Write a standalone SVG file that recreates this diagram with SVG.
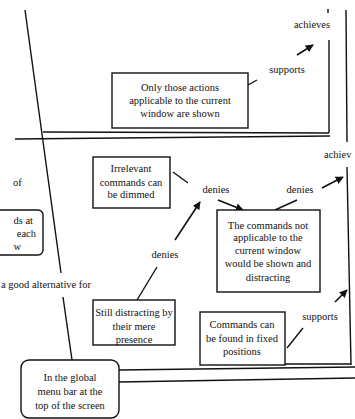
<svg xmlns="http://www.w3.org/2000/svg" width="355" height="419" viewBox="0 0 355 419">
<style>
text{font-family:"Liberation Serif","DejaVu Serif",serif;font-size:10.5px;fill:#111;text-anchor:middle}
.b{fill:#fff;stroke:#111;stroke-width:1.4}
.l{fill:none;stroke:#111;stroke-width:1.4}
.a{fill:none;stroke:#111;stroke-width:1.6;marker-end:url(#ah)}
</style>
<defs>
<marker id="ah" viewBox="0 0 10 10" refX="9" refY="5" markerWidth="8" markerHeight="8" markerUnits="userSpaceOnUse" orient="auto">
<path d="M0,0L10,5L0,10z" fill="#111"/>
</marker>
</defs>
<rect width="355" height="419" fill="#fff"/>
<g id="frames" class="l">
<line x1="25" y1="10" x2="61" y2="273"/>
<line x1="346" y1="10" x2="347" y2="142"/>
<line x1="329" y1="40" x2="329" y2="133"/>
<line x1="43" y1="132" x2="329" y2="133"/>
<line x1="15" y1="139" x2="330" y2="136"/>
<line x1="328" y1="9" x2="328" y2="13"/>
<line x1="347" y1="167" x2="351" y2="365"/>
<line x1="285" y1="364" x2="351" y2="364"/>
</g>
<g id="connectors">
<line class="l" x1="248" y1="85" x2="257" y2="80"/>
<line class="a" x1="297" y1="55" x2="313" y2="45"/>
<line class="l" x1="173" y1="172" x2="188" y2="183"/>
<line class="a" x1="218" y1="200" x2="243" y2="210"/>
<line class="l" x1="275" y1="210" x2="297" y2="200"/>
<line class="a" x1="322" y1="188" x2="343" y2="177"/>
<line class="l" x1="137" y1="300" x2="157" y2="267"/>
<line class="a" x1="175" y1="240" x2="200" y2="202"/>
<line class="l" x1="287" y1="348" x2="303" y2="328"/>
<line class="a" x1="335" y1="302" x2="347" y2="290"/>
<line class="l" x1="119" y1="370" x2="355" y2="367"/>
<line class="l" x1="119" y1="382" x2="355" y2="378"/>
<line class="l" x1="63" y1="297" x2="72" y2="360"/>
</g>
<g id="labels">
<text x="312" y="28">achieves</text>
<text x="287" y="73">supports</text>
<text x="324" y="158" style="text-anchor:start">achiev</text>
<text x="216" y="193">denies</text>
<text x="300" y="193">denies</text>
<text x="165" y="258">denies</text>
<text x="320" y="320">supports</text>
<text x="13" y="186" style="text-anchor:start">of</text>
<text x="1" y="288" style="text-anchor:start">a good alternative for</text>
</g>
<g id="n-only">
<rect class="b" x="112" y="73" width="136" height="55"/>
<text x="180" y="91">Only those actions</text>
<text x="180" y="103.5">applicable to the current</text>
<text x="180" y="116.5">window are  shown</text>
</g>
<g id="n-partial">
<rect class="b" x="-10" y="210" width="53" height="45" rx="5"/>
<text x="33" y="224" style="text-anchor:end">ds at</text>
<text x="36" y="237" style="text-anchor:end">each</text>
<text x="21" y="250" style="text-anchor:end">w</text>
</g>
<g id="n-irrelevant">
<rect class="b" x="93" y="157" width="77" height="51"/>
<text x="131" y="172">Irrelevant</text>
<text x="131" y="185.5">commands can</text>
<text x="131" y="198">be dimmed</text>
</g>
<g id="n-shown">
<rect class="b" x="217" y="210" width="103" height="82"/>
<text x="268" y="228.5">The commands not</text>
<text x="268" y="241">applicable to the</text>
<text x="268" y="254">current window</text>
<text x="268" y="267">would be shown and</text>
<text x="268" y="281">distracting</text>
</g>
<g id="n-still">
<rect class="b" x="93" y="300" width="82" height="45"/>
<text x="134" y="316">Still distracting by</text>
<text x="134" y="330">their mere</text>
<text x="134" y="343">presence</text>
</g>
<g id="n-fixed">
<rect class="b" x="200" y="312" width="85" height="53"/>
<text x="242" y="328">Commands can</text>
<text x="242" y="341.5">be found in fixed</text>
<text x="242" y="355">positions</text>
</g>
<g id="n-global">
<rect class="b" x="21" y="360" width="98" height="58" rx="8"/>
<text x="70" y="381">In the global</text>
<text x="70" y="395">menu bar at the</text>
<text x="70" y="408.5">top of the screen</text>
</g>
</svg>
